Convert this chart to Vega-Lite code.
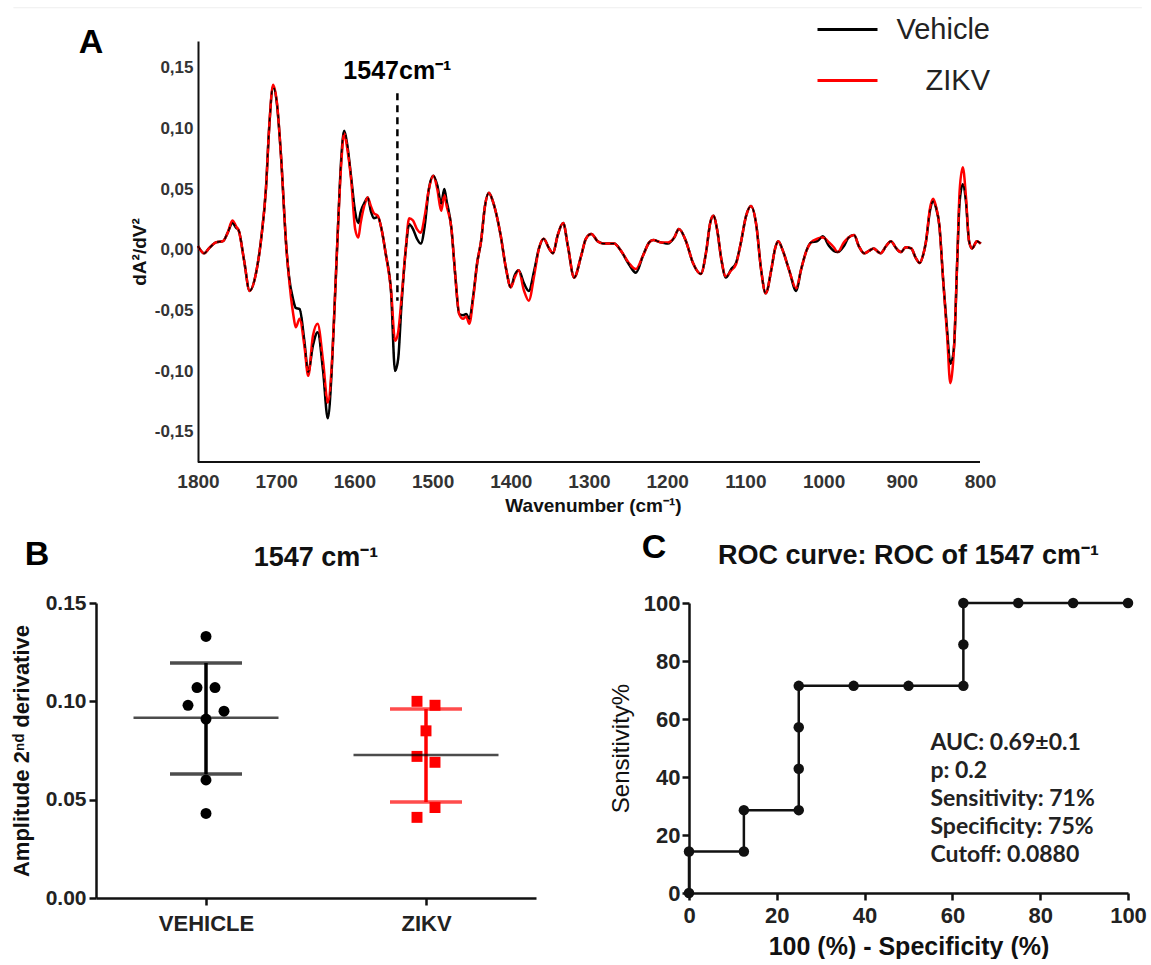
{
  "$schema": "https://vega.github.io/schema/vega-lite/v6.json",
  "background": "white",
  "padding": {"left": 10, "top": 7, "right": 5, "bottom": 0},
  "config": {
    "view": {"stroke": null},
    "font": "Liberation Sans",
    "axis": {"grid": false, "domainColor": "#111", "domainWidth": 2, "tickColor": "#111", "labelColor": "#222", "titleColor": "#111", "labelFontWeight": "bold", "titleFontWeight": "bold"}
  },
  "resolve": {"scale": {"color": "independent", "shape": "independent"}, "legend": {"color": "independent"}},
  "datasets": {
    "spectra": [
      {"wn":1800,"Vehicle":0.003,"ZIKV":0.003},{"wn":1792,"Vehicle":-0.003,"ZIKV":-0.003},{"wn":1786,"Vehicle":0.001,"ZIKV":0.001},{"wn":1777,"Vehicle":0.006,"ZIKV":0.006},{"wn":1768,"Vehicle":0.007,"ZIKV":0.007},{"wn":1762,"Vehicle":0.014,"ZIKV":0.014},{"wn":1756,"Vehicle":0.022,"ZIKV":0.024},{"wn":1751,"Vehicle":0.018,"ZIKV":0.019},{"wn":1748,"Vehicle":0.016,"ZIKV":0.016},{"wn":1741,"Vehicle":-0.009,"ZIKV":-0.009},{"wn":1734,"Vehicle":-0.034,"ZIKV":-0.034},{"wn":1726,"Vehicle":-0.020,"ZIKV":-0.020},{"wn":1719,"Vehicle":0.010,"ZIKV":0.010},{"wn":1713,"Vehicle":0.051,"ZIKV":0.051},{"wn":1709,"Vehicle":0.100,"ZIKV":0.100},{"wn":1704,"Vehicle":0.134,"ZIKV":0.136},{"wn":1699,"Vehicle":0.120,"ZIKV":0.121},{"wn":1694,"Vehicle":0.079,"ZIKV":0.079},{"wn":1687,"Vehicle":0.002,"ZIKV":0.002},{"wn":1684,"Vehicle":-0.020,"ZIKV":-0.021},{"wn":1678,"Vehicle":-0.042,"ZIKV":-0.054},{"wn":1675,"Vehicle":-0.048,"ZIKV":-0.064},{"wn":1670,"Vehicle":-0.049,"ZIKV":-0.057},{"wn":1664,"Vehicle":-0.075,"ZIKV":-0.079},{"wn":1659,"Vehicle":-0.101,"ZIKV":-0.104},{"wn":1653,"Vehicle":-0.079,"ZIKV":-0.071},{"wn":1647,"Vehicle":-0.068,"ZIKV":-0.061},{"wn":1640,"Vehicle":-0.100,"ZIKV":-0.092},{"wn":1634,"Vehicle":-0.139,"ZIKV":-0.126},{"wn":1629,"Vehicle":-0.100,"ZIKV":-0.096},{"wn":1625,"Vehicle":-0.042,"ZIKV":-0.042},{"wn":1621,"Vehicle":0.018,"ZIKV":0.018},{"wn":1617,"Vehicle":0.073,"ZIKV":0.069},{"wn":1613,"Vehicle":0.098,"ZIKV":0.096},{"wn":1609,"Vehicle":0.086,"ZIKV":0.083},{"wn":1604,"Vehicle":0.059,"ZIKV":0.057},{"wn":1599,"Vehicle":0.031,"ZIKV":0.017},{"wn":1595,"Vehicle":0.022,"ZIKV":0.010},{"wn":1592,"Vehicle":0.031,"ZIKV":0.022},{"wn":1586,"Vehicle":0.040,"ZIKV":0.039},{"wn":1583,"Vehicle":0.043,"ZIKV":0.043},{"wn":1579,"Vehicle":0.032,"ZIKV":0.036},{"wn":1575,"Vehicle":0.026,"ZIKV":0.030},{"wn":1570,"Vehicle":0.027,"ZIKV":0.028},{"wn":1565,"Vehicle":0.016,"ZIKV":0.016},{"wn":1560,"Vehicle":-0.003,"ZIKV":-0.003},{"wn":1553,"Vehicle":-0.036,"ZIKV":-0.034},{"wn":1548,"Vehicle":-0.100,"ZIKV":-0.075},{"wn":1544,"Vehicle":-0.090,"ZIKV":-0.068},{"wn":1540,"Vehicle":-0.048,"ZIKV":-0.042},{"wn":1534,"Vehicle":0.002,"ZIKV":0.003},{"wn":1530,"Vehicle":0.021,"ZIKV":0.026},{"wn":1525,"Vehicle":0.017,"ZIKV":0.024},{"wn":1520,"Vehicle":0.009,"ZIKV":0.017},{"wn":1515,"Vehicle":0.005,"ZIKV":0.014},{"wn":1510,"Vehicle":0.020,"ZIKV":0.028},{"wn":1505,"Vehicle":0.049,"ZIKV":0.049},{"wn":1499,"Vehicle":0.061,"ZIKV":0.061},{"wn":1494,"Vehicle":0.053,"ZIKV":0.050},{"wn":1489,"Vehicle":0.038,"ZIKV":0.032},{"wn":1485,"Vehicle":0.050,"ZIKV":0.045},{"wn":1482,"Vehicle":0.040,"ZIKV":0.036},{"wn":1476,"Vehicle":0.018,"ZIKV":0.018},{"wn":1471,"Vehicle":-0.021,"ZIKV":-0.021},{"wn":1466,"Vehicle":-0.053,"ZIKV":-0.053},{"wn":1461,"Vehicle":-0.054,"ZIKV":-0.057},{"wn":1457,"Vehicle":-0.053,"ZIKV":-0.055},{"wn":1453,"Vehicle":-0.057,"ZIKV":-0.061},{"wn":1448,"Vehicle":-0.038,"ZIKV":-0.040},{"wn":1443,"Vehicle":-0.011,"ZIKV":-0.011},{"wn":1438,"Vehicle":0.007,"ZIKV":0.007},{"wn":1433,"Vehicle":0.036,"ZIKV":0.036},{"wn":1428,"Vehicle":0.047,"ZIKV":0.047},{"wn":1423,"Vehicle":0.040,"ZIKV":0.040},{"wn":1418,"Vehicle":0.028,"ZIKV":0.028},{"wn":1413,"Vehicle":0.012,"ZIKV":0.012},{"wn":1406,"Vehicle":-0.016,"ZIKV":-0.016},{"wn":1400,"Vehicle":-0.031,"ZIKV":-0.031},{"wn":1395,"Vehicle":-0.021,"ZIKV":-0.023},{"wn":1390,"Vehicle":-0.017,"ZIKV":-0.017},{"wn":1383,"Vehicle":-0.028,"ZIKV":-0.034},{"wn":1377,"Vehicle":-0.034,"ZIKV":-0.042},{"wn":1370,"Vehicle":-0.017,"ZIKV":-0.021},{"wn":1364,"Vehicle":0.001,"ZIKV":0.001},{"wn":1358,"Vehicle":0.009,"ZIKV":0.009},{"wn":1351,"Vehicle":0.001,"ZIKV":0.001},{"wn":1346,"Vehicle":-0.003,"ZIKV":-0.003},{"wn":1340,"Vehicle":0.012,"ZIKV":0.012},{"wn":1333,"Vehicle":0.022,"ZIKV":0.022},{"wn":1327,"Vehicle":0.003,"ZIKV":0.003},{"wn":1319,"Vehicle":-0.023,"ZIKV":-0.023},{"wn":1310,"Vehicle":-0.005,"ZIKV":-0.005},{"wn":1304,"Vehicle":0.009,"ZIKV":0.009},{"wn":1297,"Vehicle":0.013,"ZIKV":0.013},{"wn":1289,"Vehicle":0.007,"ZIKV":0.007},{"wn":1281,"Vehicle":0.005,"ZIKV":0.005},{"wn":1268,"Vehicle":0.005,"ZIKV":0.005},{"wn":1259,"Vehicle":-0.001,"ZIKV":-0.001},{"wn":1249,"Vehicle":-0.012,"ZIKV":-0.011},{"wn":1240,"Vehicle":-0.019,"ZIKV":-0.016},{"wn":1231,"Vehicle":-0.005,"ZIKV":-0.005},{"wn":1223,"Vehicle":0.006,"ZIKV":0.006},{"wn":1218,"Vehicle":0.008,"ZIKV":0.008},{"wn":1208,"Vehicle":0.006,"ZIKV":0.006},{"wn":1199,"Vehicle":0.005,"ZIKV":0.006},{"wn":1191,"Vehicle":0.010,"ZIKV":0.010},{"wn":1185,"Vehicle":0.017,"ZIKV":0.017},{"wn":1176,"Vehicle":0.007,"ZIKV":0.007},{"wn":1167,"Vehicle":-0.011,"ZIKV":-0.011},{"wn":1157,"Vehicle":-0.020,"ZIKV":-0.020},{"wn":1150,"Vehicle":-0.001,"ZIKV":-0.001},{"wn":1145,"Vehicle":0.022,"ZIKV":0.022},{"wn":1141,"Vehicle":0.028,"ZIKV":0.028},{"wn":1136,"Vehicle":0.016,"ZIKV":0.016},{"wn":1131,"Vehicle":-0.007,"ZIKV":-0.007},{"wn":1125,"Vehicle":-0.023,"ZIKV":-0.022},{"wn":1118,"Vehicle":-0.016,"ZIKV":-0.017},{"wn":1112,"Vehicle":-0.011,"ZIKV":-0.012},{"wn":1106,"Vehicle":0.005,"ZIKV":0.005},{"wn":1099,"Vehicle":0.028,"ZIKV":0.028},{"wn":1093,"Vehicle":0.036,"ZIKV":0.036},{"wn":1086,"Vehicle":0.020,"ZIKV":0.020},{"wn":1080,"Vehicle":-0.016,"ZIKV":-0.016},{"wn":1074,"Vehicle":-0.036,"ZIKV":-0.036},{"wn":1067,"Vehicle":-0.017,"ZIKV":-0.017},{"wn":1062,"Vehicle":0.001,"ZIKV":0.001},{"wn":1058,"Vehicle":0.007,"ZIKV":0.007},{"wn":1052,"Vehicle":-0.001,"ZIKV":-0.001},{"wn":1044,"Vehicle":-0.017,"ZIKV":-0.017},{"wn":1035,"Vehicle":-0.034,"ZIKV":-0.032},{"wn":1029,"Vehicle":-0.017,"ZIKV":-0.017},{"wn":1022,"Vehicle":-0.001,"ZIKV":-0.001},{"wn":1016,"Vehicle":0.006,"ZIKV":0.006},{"wn":1008,"Vehicle":0.007,"ZIKV":0.009},{"wn":1001,"Vehicle":0.011,"ZIKV":0.010},{"wn":993,"Vehicle":0.003,"ZIKV":0.006},{"wn":987,"Vehicle":-0.001,"ZIKV":0.002},{"wn":982,"Vehicle":-0.002,"ZIKV":-0.002},{"wn":974,"Vehicle":0.003,"ZIKV":0.006},{"wn":968,"Vehicle":0.010,"ZIKV":0.010},{"wn":961,"Vehicle":0.012,"ZIKV":0.012},{"wn":955,"Vehicle":0.003,"ZIKV":0.003},{"wn":948,"Vehicle":-0.003,"ZIKV":-0.003},{"wn":942,"Vehicle":-0.001,"ZIKV":-0.001},{"wn":936,"Vehicle":0.001,"ZIKV":0.001},{"wn":930,"Vehicle":-0.002,"ZIKV":-0.002},{"wn":927,"Vehicle":-0.003,"ZIKV":-0.003},{"wn":920,"Vehicle":0.003,"ZIKV":0.003},{"wn":914,"Vehicle":0.007,"ZIKV":0.007},{"wn":907,"Vehicle":0.001,"ZIKV":0.001},{"wn":901,"Vehicle":-0.002,"ZIKV":-0.002},{"wn":895,"Vehicle":0.002,"ZIKV":0.002},{"wn":888,"Vehicle":0.001,"ZIKV":0.001},{"wn":882,"Vehicle":-0.007,"ZIKV":-0.007},{"wn":877,"Vehicle":-0.011,"ZIKV":-0.011},{"wn":873,"Vehicle":-0.005,"ZIKV":-0.005},{"wn":869,"Vehicle":0.007,"ZIKV":0.007},{"wn":864,"Vehicle":0.032,"ZIKV":0.034},{"wn":860,"Vehicle":0.040,"ZIKV":0.042},{"wn":856,"Vehicle":0.034,"ZIKV":0.035},{"wn":852,"Vehicle":0.020,"ZIKV":0.020},{"wn":847,"Vehicle":-0.026,"ZIKV":-0.026},{"wn":842,"Vehicle":-0.067,"ZIKV":-0.071},{"wn":838,"Vehicle":-0.094,"ZIKV":-0.110},{"wn":836,"Vehicle":-0.092,"ZIKV":-0.104},{"wn":833,"Vehicle":-0.078,"ZIKV":-0.078},{"wn":829,"Vehicle":-0.007,"ZIKV":-0.007},{"wn":826,"Vehicle":0.040,"ZIKV":0.049},{"wn":822,"Vehicle":0.054,"ZIKV":0.068},{"wn":818,"Vehicle":0.040,"ZIKV":0.044},{"wn":814,"Vehicle":0.007,"ZIKV":0.007},{"wn":810,"Vehicle":0.001,"ZIKV":0.001},{"wn":804,"Vehicle":0.007,"ZIKV":0.007},{"wn":799,"Vehicle":0.005,"ZIKV":0.005}
    ],
    "amp": [
      {"g":"VEHICLE","v":0.133,"slot":0},{"g":"VEHICLE","v":0.107,"slot":-1},{"g":"VEHICLE","v":0.107,"slot":1},{"g":"VEHICLE","v":0.098,"slot":-2},{"g":"VEHICLE","v":0.095,"slot":2},{"g":"VEHICLE","v":0.091,"slot":0},{"g":"VEHICLE","v":0.060,"slot":0},{"g":"VEHICLE","v":0.043,"slot":0},
      {"g":"ZIKV","v":0.100,"slot":-1},{"g":"ZIKV","v":0.098,"slot":1},{"g":"ZIKV","v":0.085,"slot":0},{"g":"ZIKV","v":0.072,"slot":-1},{"g":"ZIKV","v":0.069,"slot":1},{"g":"ZIKV","v":0.046,"slot":1},{"g":"ZIKV","v":0.041,"slot":-1}
    ],
    "summ": [
      {"g":"VEHICLE","mean":0.0916,"lo":0.063,"hi":0.1195},
      {"g":"ZIKV","mean":0.0727,"lo":0.0488,"hi":0.0961}
    ],
    "roc": [
      {"i":0,"fpr":0,"sens":0},{"i":1,"fpr":0,"sens":14.29},{"i":2,"fpr":12.5,"sens":14.29},{"i":3,"fpr":12.5,"sens":28.57},{"i":4,"fpr":25,"sens":28.57},{"i":5,"fpr":25,"sens":42.86},{"i":6,"fpr":25,"sens":57.14},{"i":7,"fpr":25,"sens":71.43},{"i":8,"fpr":37.5,"sens":71.43},{"i":9,"fpr":50,"sens":71.43},{"i":10,"fpr":62.5,"sens":71.43},{"i":11,"fpr":62.5,"sens":85.71},{"i":12,"fpr":62.5,"sens":100},{"i":13,"fpr":75,"sens":100},{"i":14,"fpr":87.5,"sens":100},{"i":15,"fpr":100,"sens":100}
    ]
  },
  "spacing": 16,
  "vconcat": [
    {
      "width": 884,
      "height": 421,
      "layer": [
        {
          "data": {"values": [{}]},
          "mark": {"type": "rule", "color": "#eeeeee", "strokeWidth": 1},
          "encoding": {"x": {"datum": 2036}, "x2": {"datum": 593}, "y": {"datum": 0.1994}}
        },
        {
          "data": {"name": "spectra"},
          "transform": [{"fold": ["Vehicle", "ZIKV"], "as": ["series", "val"]}],
          "mark": {"type": "line", "strokeWidth": 2.5, "interpolate": "monotone"},
          "encoding": {
            "x": {"field": "wn", "type": "quantitative", "scale": {"domain": [1930.4, 800], "nice": false, "zero": false},
                  "axis": {"values": [1800,1700,1600,1500,1400,1300,1200,1100,1000,900,800], "format": "d", "domain": false, "title": "Wavenumber (cm⁻¹)", "titleX": 497, "labelFontSize": 19, "titleFontSize": 19, "ticks": false, "labelPadding": 10, "titlePadding": 5, "labelColor": "#333", "labelFlush": false}},
            "y": {"field": "val", "type": "quantitative", "scale": {"domain": [-0.175, 0.172], "nice": false, "zero": false},
                  "axis": {"values": [-0.15,-0.1,-0.05,0,0.05,0.1,0.15], "offset": -102, "labelExpr": "replace(replace(format(datum.value, '.2f'), '.', ','), '−', '-')", "title": "dA²/dV²", "labelFontSize": 17, "titleFontSize": 19, "ticks": false, "labelPadding": 5, "titlePadding": 5, "labelColor": "#333"}},
            "color": {"field": "series", "type": "nominal", "scale": {"domain": ["Vehicle", "ZIKV"], "range": ["#000000", "#ff0000"]},
                      "legend": {"orient": "none", "legendX": 735, "legendY": -28, "title": null, "symbolType": "M-2,0H2", "symbolSize": 900, "symbolStrokeWidth": 3, "labelFontSize": 29, "labelFont": "Liberation Sans", "labelFontWeight": "normal", "labelColor": "#222", "rowPadding": 19, "labelOffset": 126, "labelAlign": "right", "padding": 0}},
            "order": {"field": "wn", "sort": "descending"}
          }
        },
        {
          "data": {"name": "spectra"},
          "mark": {"type": "line", "color": "#000000", "strokeWidth": 1.4, "strokeDash": [4, 5], "interpolate": "monotone"},
          "encoding": {
            "x": {"field": "wn", "type": "quantitative"},
            "y": {"field": "Vehicle", "type": "quantitative", "title": "dA²/dV²"},
            "order": {"field": "wn", "sort": "descending"}
          }
        },
        {
          "data": {"values": [{}]},
          "mark": {"type": "rule", "color": "#111111", "strokeWidth": 2},
          "encoding": {"x": {"datum": 1800}, "x2": {"datum": 800}, "y": {"datum": -0.175}}
        },
        {
          "data": {"values": [{}]},
          "mark": {"type": "rule", "color": "#000000", "strokeWidth": 2.5, "strokeDash": [7, 5]},
          "encoding": {"x": {"datum": 1545}, "y": {"datum": 0.129}, "y2": {"datum": -0.042}}
        },
        {
          "data": {"values": [{}]},
          "mark": {"type": "text", "text": "1547cm⁻¹", "fontSize": 25, "fontWeight": "bold", "align": "center", "baseline": "middle", "color": "#000"},
          "encoding": {"x": {"datum": 1545}, "y": {"datum": 0.147}}
        },
        {
          "data": {"values": [{}]},
          "mark": {"type": "text", "text": "A", "fontSize": 34, "fontWeight": "bold", "align": "center", "baseline": "middle", "dx": -107, "dy": 2, "color": "#000"},
          "encoding": {"x": {"datum": 1800}, "y": {"datum": 0.172}}
        }
      ]
    },
    {
      "spacing": 73,
      "hconcat": [
        {
          "width": 440,
          "height": 295,
          "title": {"text": "1547 cm⁻¹", "fontSize": 27, "fontWeight": "bold", "offset": -34, "color": "#111"},
          "layer": [
            {
              "data": {"name": "amp"},
              "mark": {"type": "point", "filled": true, "size": 120, "opacity": 1},
              "encoding": {
                "x": {"field": "g", "type": "nominal", "scale": {"type": "point", "padding": 0.5},
                      "axis": {"title": null, "labelFontSize": 22, "labelAngle": 0, "tickSize": 7, "tickWidth": 2.5, "domainWidth": 2.5, "labelPadding": 8}},
                "xOffset": {"field": "slot", "type": "quantitative", "scale": {"domain": [-2, 2], "range": [-18, 18]}},
                "y": {"field": "v", "type": "quantitative", "scale": {"domain": [0, 0.15], "nice": false},
                      "axis": {"values": [0, 0.05, 0.1, 0.15], "format": ".2f", "title": "Amplitude 2ⁿᵈ derivative", "labelFontSize": 21, "titleFontSize": 22, "tickSize": 7, "tickWidth": 2.5, "domainWidth": 2.5, "labelPadding": 3, "titlePadding": 12}},
                "color": {"field": "g", "type": "nominal", "scale": {"domain": ["VEHICLE", "ZIKV"], "range": ["#000000", "#ff0000"]}, "legend": null},
                "shape": {"field": "g", "type": "nominal", "scale": {"domain": ["VEHICLE", "ZIKV"], "range": ["circle", "square"]}, "legend": null}
              }
            },
            {
              "data": {"name": "summ"},
              "mark": {"type": "rule", "strokeWidth": 3.5},
              "encoding": {
                "x": {"field": "g", "type": "nominal"},
                "y": {"field": "lo", "type": "quantitative"},
                "y2": {"field": "hi"},
                "color": {"field": "g", "type": "nominal", "legend": null}
              }
            },
            {
              "data": {"name": "summ"},
              "mark": {"type": "tick", "size": 72, "thickness": 3.5, "orient": "horizontal"},
              "encoding": {
                "x": {"field": "g", "type": "nominal"},
                "y": {"field": "lo", "type": "quantitative"},
                "color": {"field": "g", "type": "nominal", "legend": null}
              }
            },
            {
              "data": {"name": "summ"},
              "mark": {"type": "tick", "size": 72, "thickness": 3.5, "orient": "horizontal"},
              "encoding": {
                "x": {"field": "g", "type": "nominal"},
                "y": {"field": "hi", "type": "quantitative"},
                "color": {"field": "g", "type": "nominal", "legend": null}
              }
            },
            {
              "data": {"name": "summ"},
              "mark": {"type": "tick", "size": 145, "thickness": 2.5, "orient": "horizontal", "color": "#000000"},
              "encoding": {
                "x": {"field": "g", "type": "nominal"},
                "y": {"field": "mean", "type": "quantitative"}
              }
            },
            {
              "data": {"values": [{}]},
              "mark": {"type": "text", "text": "B", "fontSize": 34, "fontWeight": "bold", "align": "center", "baseline": "middle", "dx": -169, "dy": -48, "color": "#000"},
              "encoding": {"x": {"datum": "VEHICLE"}, "y": {"datum": 0.15}}
            }
          ]
        },
        {
          "width": 439,
          "height": 290,
          "title": {"text": "ROC curve: ROC of 1547 cm⁻¹", "fontSize": 27, "fontWeight": "bold", "offset": -39, "color": "#111"},
          "layer": [
            {
              "data": {"name": "roc"},
              "mark": {"type": "line", "color": "#111111", "strokeWidth": 2.5, "point": {"filled": true, "size": 110, "color": "#111111"}},
              "encoding": {
                "x": {"field": "fpr", "type": "quantitative", "scale": {"domain": [0, 100], "nice": false},
                      "axis": {"values": [0,20,40,60,80,100], "title": "100 (%) - Specificity (%)", "labelFontSize": 22, "titleFontSize": 25, "tickSize": 7, "tickWidth": 2.5, "domainWidth": 2.5, "labelPadding": 5, "titlePadding": 8, "labelFlush": false}},
                "y": {"field": "sens", "type": "quantitative", "scale": {"domain": [0, 100], "nice": false},
                      "axis": {"values": [0,20,40,60,80,100], "title": "Sensitivity%", "labelFontSize": 22, "titleFontSize": 24, "titleFontWeight": "normal", "tickSize": 7, "tickWidth": 2.5, "domainWidth": 2.5, "labelPadding": 2, "titlePadding": 10}},
                "order": {"field": "i", "type": "quantitative"}
              }
            },
            {
              "data": {"values": [{}]},
              "mark": {"type": "text", "text": ["AUC: 0.69±0.1", "p: 0.2", "Sensitivity: 71%", "Specificity: 75%", "Cutoff: 0.0880"], "font": "Lato", "fontSize": 23, "fontWeight": "bold", "lineHeight": 28, "align": "left", "baseline": "middle", "color": "#222"},
              "encoding": {"x": {"datum": 55}, "y": {"datum": 51.7}}
            },
            {
              "data": {"values": [{}]},
              "mark": {"type": "text", "text": "C", "fontSize": 34, "fontWeight": "bold", "align": "center", "baseline": "middle", "dx": -35, "dy": -55, "color": "#000"},
              "encoding": {"x": {"datum": 0}, "y": {"datum": 100}}
            }
          ]
        }
      ]
    }
  ]
}
